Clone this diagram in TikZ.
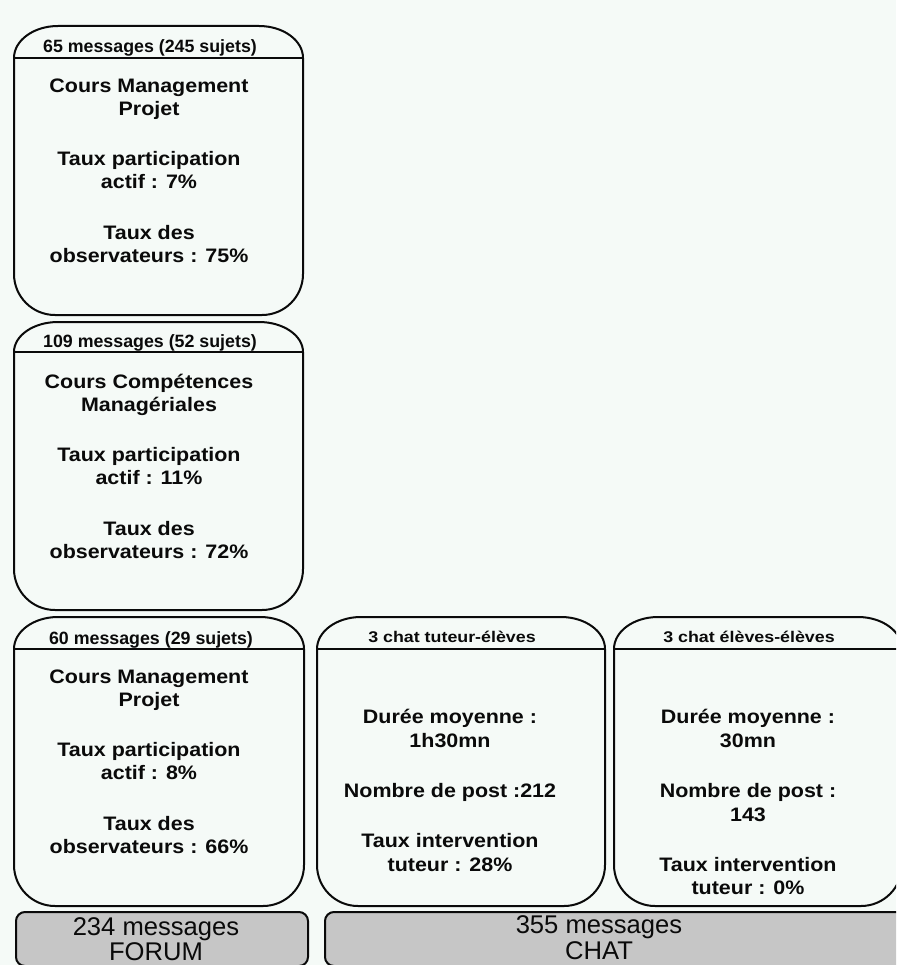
\documentclass[tikz,border=0pt]{standalone}
\usepackage{fontspec}
\setmainfont{Liberation Sans}
\newfontfamily\bfam[FakeStretch=1.1]{Liberation Sans}
\newfontfamily\cfam[FakeStretch=1.15]{Liberation Sans}
\definecolor{bg}{RGB}{245,250,247}
\definecolor{barfill}{RGB}{198,198,198}
\definecolor{ink}{RGB}{10,10,10}
\newcommand{\hdrfnt}{\fontsize{17.8}{20}\selectfont\bfseries}
\newcommand{\chdrfnt}{\cfam\fontsize{15.5}{18}\selectfont\bfseries}
\newcommand{\bodyfnt}{\bfam\fontsize{19.5}{23.5}\selectfont\bfseries}
\newcommand{\barfnt}{\fontsize{25.6}{26}\selectfont}
% l r t h b : rounded panel with header strip
\newcommand{\rpanel}[5]{%
  \draw[boxline] (#1,#4)
    .. controls (#1,{#4-0.552*(#4-#3)}) and ({#1+44-0.552*44},#3) .. ({#1+44},#3)
    -- ({#2-44},#3)
    .. controls ({#2-44+0.552*44},#3) and (#2,{#4-0.552*(#4-#3)}) .. (#2,#4)
    -- (#2,{#5-41})
    .. controls (#2,{#5-41+0.552*41}) and ({#2-41+0.552*41},#5) .. ({#2-41},#5)
    -- ({#1+41},#5)
    .. controls ({#1+41-0.552*41},#5) and (#1,{#5-41+0.552*41}) .. (#1,{#5-41})
    -- cycle;
  \draw[boxline] (#1,#4) -- (#2,#4);
}
\begin{document}
\begin{tikzpicture}[x=1pt,y=-1pt,
  boxline/.style={draw=ink,line width=2pt,line join=round},
  barbox/.style={draw=ink,line width=2pt,fill=barfill,rounded corners=9pt},
  hdr/.style={font=\hdrfnt,text=ink,inner sep=0pt,anchor=base},
  chdr/.style={font=\chdrfnt,text=ink,inner sep=0pt,anchor=base},
  body/.style={font=\bodyfnt,text=ink,inner sep=0pt,anchor=base},
  bartxt/.style={font=\barfnt,text=ink,inner sep=0pt,anchor=base}]
\fill[bg] (0,0) rectangle (896,965);
\useasboundingbox (0,0) rectangle (896,965);
\clip (0,0) rectangle (896,965);

% panels
\rpanel{14}{303}{26}{58}{315}
\rpanel{14}{303}{322}{352}{610}
\rpanel{14}{304}{617}{649}{906}
\rpanel{317}{605}{617}{649}{906}
\rpanel{614}{902}{617}{649}{906}

% panel 1
\node[hdr] (h1) at (150,53) {65 messages (245 sujets)};
\node[body] (a1) at (149,93) {Cours Management};
\node[body] (a2) at (149,116) {Projet};
\node[body] (a3) at (149,166) {Taux participation};
\node[body] (a4) at (149,189) {actif : 7\%};
\node[body] (a5) at (149,240) {Taux des};
\node[body] (a6) at (149,263) {observateurs : 75\%};

% panel 2
\node[hdr] (h2) at (150,347) {109 messages (52 sujets)};
\node[body] (b1) at (149,388) {Cours Compétences};
\node[body] (b2) at (149,411) {Managériales};
\node[body] (b3) at (149,461) {Taux participation};
\node[body] (b4) at (149,484) {actif : 11\%};
\node[body] (b5) at (149,535) {Taux des};
\node[body] (b6) at (149,558) {observateurs : 72\%};

% panel 3
\node[hdr] (h3) at (151,644) {60 messages (29 sujets)};
\node[body] (c1) at (149,683) {Cours Management};
\node[body] (c2) at (149,706) {Projet};
\node[body] (c3) at (149,756) {Taux participation};
\node[body] (c4) at (149,779) {actif : 8\%};
\node[body] (c5) at (149,830) {Taux des};
\node[body] (c6) at (149,853) {observateurs : 66\%};

% panel 4
\node[chdr] (h4) at (452,642) {3 chat tuteur-élèves};
\node[body] (d1) at (450,723) {Durée moyenne :};
\node[body] (d2) at (450,747) {1h30mn};
\node[body] (d3) at (450,797) {Nombre de post :212};
\node[body] (d4) at (450,847) {Taux intervention};
\node[body] (d5) at (450,871) {tuteur : 28\%};

% panel 5
\node[chdr] (h5) at (749,642) {3 chat élèves-élèves};
\node[body] (e1) at (748,723) {Durée moyenne :};
\node[body] (e2) at (748,747) {30mn};
\node[body] (e3) at (748,797) {Nombre de post :};
\node[body] (e4) at (748,821) {143};
\node[body] (e5) at (748,871) {Taux intervention};
\node[body] (e6) at (748,894) {tuteur : 0\%};

% bottom bars
\draw[barbox] (16,912) rectangle (308,966);
\draw[barbox] (325,912) rectangle (910,966);
\node[bartxt] (f1) at (156,935) {234 messages};
\node[bartxt] (f2) at (156,960) {FORUM};
\node[bartxt] (g1) at (599,933) {355 messages};
\node[bartxt] (g2) at (599,959) {CHAT};
\end{tikzpicture}
\end{document}
